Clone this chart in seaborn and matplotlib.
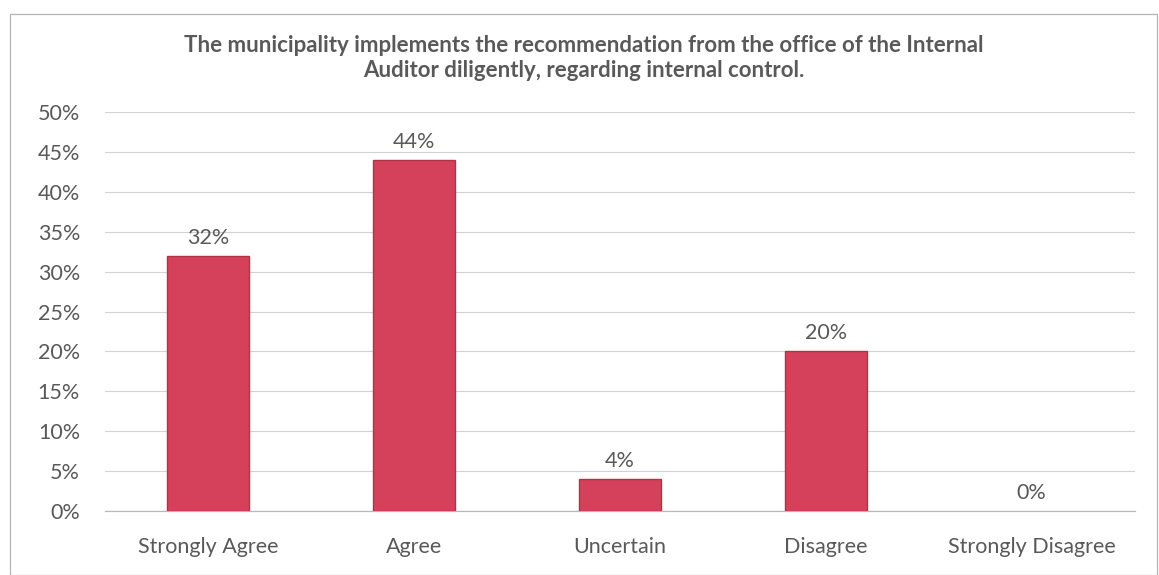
import matplotlib
matplotlib.use("Agg")
import matplotlib.pyplot as plt
import seaborn as sns
import pandas as pd
from matplotlib.patches import Rectangle

categories = ["Strongly Agree", "Agree", "Uncertain", "Disagree", "Strongly Disagree"]
percentages = [32, 44, 4, 20, 0]
yticks = [0, 5, 10, 15, 20, 25, 30, 35, 40, 45, 50]
title = ("The municipality implements the recommendation from the office of the Internal\n"
         "Auditor diligently, regarding internal control.")

sns.set_theme(style="white")
plt.rcParams["font.family"] = ["Lato", "DejaVu Sans"]

text_gray = "#595959"
bar_color = "#D5405A"

df = pd.DataFrame({"category": categories, "pct": percentages})

fig = plt.figure(figsize=(11.59, 5.75), dpi=100)
ax = fig.add_axes([0.0906, 0.1113, 0.979 - 0.0906, 0.8052 - 0.1113])

sns.barplot(data=df, x="category", y="pct", order=categories, color=bar_color,
            width=0.40, saturation=1, edgecolor="#B3324A", linewidth=1.0, ax=ax, zorder=3)

# an empty bar leaves no visible mark
for patch in ax.patches:
    if patch.get_height() == 0:
        patch.set_visible(False)

ax.set_ylim(0, 50)
ax.set_xlim(-0.5, len(categories) - 0.5)
ax.set_yticks(yticks)
ax.set_yticklabels([f"{v}%" for v in yticks])
ax.set_xlabel("")
ax.set_ylabel("")
ax.yaxis.grid(True, color="#d2d2d2", linewidth=0.8, zorder=0)
ax.xaxis.grid(False)
for side in ["top", "right", "left"]:
    ax.spines[side].set_visible(False)
ax.spines["bottom"].set_color("#b8b8b8")
ax.spines["bottom"].set_linewidth(0.9)
ax.tick_params(axis="y", labelsize=15.5, colors=text_gray, pad=18, length=0)
ax.tick_params(axis="x", labelsize=15.5, colors=text_gray, pad=19, length=0)

for i, v in enumerate(percentages):
    ax.text(i, v + 1.0, f"{v}%", ha="center", va="bottom", fontsize=15.5, color=text_gray)

fig.text(0.504, 0.94, title, ha="center", va="top", fontsize=16,
         fontweight="bold", color=text_gray, linespacing=1.27)

fig.add_artist(Rectangle((10 / 1159, 0), 1 - 10 / 1159 - 2 / 1159, 1 - 14 / 575,
                         transform=fig.transFigure, fill=False,
                         edgecolor="#b5b5b5", linewidth=0.9))

fig.savefig("out.png", dpi=100, facecolor="white")
